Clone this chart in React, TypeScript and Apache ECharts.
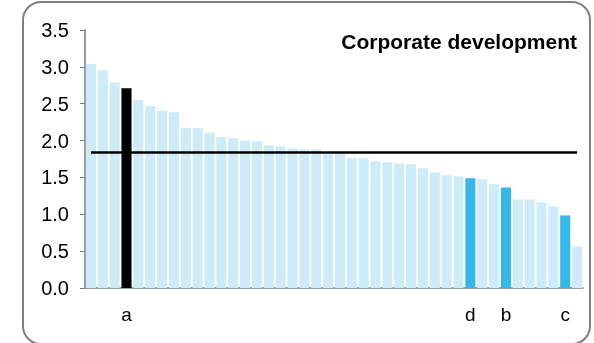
import React, { useEffect, useRef } from "react";
import * as echarts from "echarts";

// Bar values, sorted descending
const values = [
  3.04, 2.955, 2.79, 2.71, 2.55, 2.47, 2.4, 2.385, 2.17, 2.17,
  2.11, 2.045, 2.03, 2.0, 1.99, 1.935, 1.92, 1.895, 1.88, 1.88,
  1.84, 1.83, 1.76, 1.76, 1.72, 1.705, 1.69, 1.68, 1.624, 1.57,
  1.53, 1.515, 1.49, 1.475, 1.406, 1.365, 1.2, 1.2, 1.16, 1.107,
  0.985, 0.564,
];

// Marked bars: index, label and kind
const markedIndex = [3, 32, 35, 40];
const markedLabel = ["a", "d", "b", "c"];
const markedKind = ["focus", "peer", "peer", "peer"];

// Average reference line
const averageValue = 1.845;

// Y axis ticks
const yTicks = [0, 0.5, 1.0, 1.5, 2.0, 2.5, 3.0, 3.5];

const title = "Corporate development";

const COLORS = {
  base: "#CDECF8",
  peer: "#33B8E8",
  focus: "#000000",
};

export default function App() {
  const ref = useRef<HTMLDivElement>(null);

  useEffect(() => {
    if (!ref.current) return;
    const chart = echarts.init(ref.current, undefined, { renderer: "svg" });

    const categories = values.map((_, i) => String(i));
    const labelFor = (i: number) => {
      const k = markedIndex.indexOf(i);
      return k >= 0 ? markedLabel[k] : "";
    };
    const barData = values.map((v, i) => {
      const k = markedIndex.indexOf(i);
      const color = k >= 0 ? COLORS[markedKind[k] as "peer" | "focus"] : COLORS.base;
      return { value: v, itemStyle: { color } };
    });

    const font = "'Liberation Sans', Arial, Helvetica, sans-serif";

    chart.setOption({
      animation: false,
      title: {
        text: title,
        right: 12,
        top: 26,
        textStyle: {
          fontFamily: font,
          fontSize: 21,
          fontWeight: "bold",
          color: "#000",
        },
      },
      graphic: [
        {
          type: "rect",
          shape: { x: 23, y: 2, width: 567, height: 342, r: 18 },
          style: { fill: "none", stroke: "#7f7f7f", lineWidth: 2 },
          silent: true,
        },
      ],
      grid: { left: 85, right: 11, top: 30, bottom: 55 },
      xAxis: {
        type: "category",
        data: categories,
        boundaryGap: true,
        axisLine: { show: true, lineStyle: { color: "#6f7f86", width: 1.5 } },
        axisTick: { show: false },
        axisLabel: {
          interval: 0,
          margin: 17,
          fontFamily: font,
          fontSize: 19,
          color: "#000",
          formatter: (_v: string, i: number) => labelFor(i),
        },
        splitLine: { show: false },
      },
      yAxis: {
        type: "value",
        min: yTicks[0],
        max: yTicks[yTicks.length - 1],
        interval: 0.5,
        axisLine: { show: true, lineStyle: { color: "#777", width: 1.5 } },
        axisTick: { show: true, length: 5, lineStyle: { color: "#777" } },
        axisLabel: {
          margin: 16,
          fontFamily: font,
          fontSize: 20,
          color: "#000",
          formatter: (v: number) => v.toFixed(1),
        },
        splitLine: { show: false },
      },
      series: [
        {
          type: "bar",
          data: barData,
          barCategoryGap: "15%",
          markLine: {
            silent: true,
            symbol: ["none", "none"],
            label: { show: false },
            lineStyle: { color: "#000", width: 2.5, type: "solid" },
            data: [
              [
                { coord: [categories[0], averageValue] },
                { coord: [categories[categories.length - 1], averageValue] },
              ],
            ],
          },
        },
      ],
    });

    return () => chart.dispose();
  }, []);

  return (
    <div
      ref={ref}
      style={{ position: "fixed", left: 0, top: 0, width: 594, height: 343 }}
    />
  );
}
